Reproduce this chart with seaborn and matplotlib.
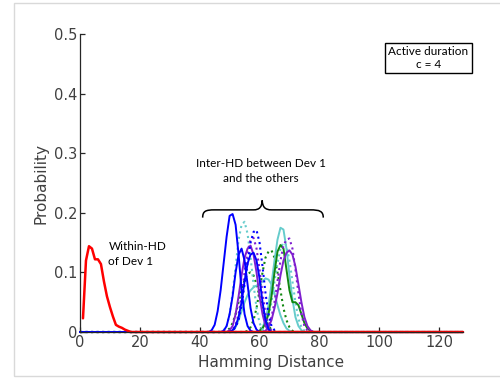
import numpy as np
import pandas as pd
import seaborn as sns
import matplotlib
matplotlib.use("Agg")
import matplotlib.pyplot as plt
from matplotlib.patches import Rectangle, PathPatch
from matplotlib.path import Path

sns.set_theme(style="ticks")
plt.rcParams['font.family'] = ['DejaVu Sans']

# ---------------- data ----------------
hd_max = 128
x_ticks = [0, 20, 40, 60, 80, 100, 120]
y_ticks = [0, 0.1, 0.2, 0.3, 0.4, 0.5]
y_tick_labels = ['0', '0.1', '0.2', '0.3', '0.4', '0.5']

# Within-HD of Dev 1 (starts at HD = 1)
within_start = 1
within_vals = [0.023, 0.12, 0.144, 0.14, 0.122, 0.122, 0.114, 0.085, 0.06,
               0.042, 0.026, 0.012, 0.009, 0.007, 0.004, 0.002, 0.0]

# Inter-HD curves: (start HD, values)
green_dot_a_start = 49
green_dot_a = [0.002, 0.006, 0.015, 0.03, 0.05, 0.07, 0.088, 0.098, 0.1, 0.095,
               0.08, 0.06, 0.04, 0.022, 0.01, 0.004, 0.001, 0.0]
green_dot_b_start = 56
green_dot_b = [0.002, 0.008, 0.02, 0.04, 0.07, 0.1, 0.125, 0.135, 0.137, 0.125,
               0.1, 0.07, 0.04, 0.02, 0.008, 0.002, 0.0]
green_sol_start = 60
green_sol = [0.002, 0.006, 0.015, 0.03, 0.06, 0.1, 0.135, 0.146, 0.14, 0.105,
             0.07, 0.05, 0.05, 0.045, 0.03, 0.015, 0.006, 0.002, 0.0]
cyan_sol_a_start = 51
cyan_sol_a = [0.002, 0.008, 0.02, 0.035, 0.05, 0.062, 0.07, 0.075, 0.078, 0.08,
              0.085, 0.09, 0.088, 0.08, 0.065, 0.045, 0.028, 0.015, 0.006, 0.002, 0.0]
cyan_sol_b_start = 60
cyan_sol_b = [0.002, 0.008, 0.02, 0.045, 0.08, 0.12, 0.155, 0.175, 0.172, 0.14,
              0.095, 0.055, 0.025, 0.01, 0.003, 0.0]
cyan_dot_a_start = 48
cyan_dot_a = [0.003, 0.01, 0.03, 0.065, 0.11, 0.155, 0.18, 0.185, 0.165, 0.125,
              0.08, 0.04, 0.015, 0.004, 0.0]
cyan_dot_b_start = 61
cyan_dot_b = [0.002, 0.01, 0.025, 0.05, 0.085, 0.115, 0.14, 0.15, 0.145, 0.12,
              0.085, 0.05, 0.022, 0.008, 0.002, 0.0]
purple_sol_a_start = 50
purple_sol_a = [0.003, 0.01, 0.03, 0.06, 0.095, 0.125, 0.14, 0.145, 0.13, 0.1,
                0.06, 0.03, 0.01, 0.003, 0.0]
purple_sol_b_start = 62
purple_sol_b = [0.002, 0.008, 0.02, 0.04, 0.065, 0.095, 0.12, 0.133, 0.137, 0.13,
                0.11, 0.08, 0.05, 0.025, 0.01, 0.003, 0.0]
purple_dot_a_start = 51
purple_dot_a = [0.003, 0.012, 0.03, 0.06, 0.1, 0.135, 0.155, 0.158, 0.14, 0.105,
                0.065, 0.03, 0.01, 0.002, 0.0]
purple_dot_b_start = 62
purple_dot_b = [0.002, 0.01, 0.025, 0.05, 0.085, 0.12, 0.145, 0.155, 0.157, 0.14,
                0.105, 0.065, 0.03, 0.01, 0.003, 0.0]
blue_dot_start = 51
blue_dot = [0.002, 0.008, 0.02, 0.045, 0.08, 0.115, 0.15, 0.168, 0.171, 0.15,
            0.11, 0.065, 0.03, 0.01, 0.003, 0.0]
blue_sol_c_start = 51
blue_sol_c = [0.003, 0.01, 0.025, 0.05, 0.085, 0.115, 0.13, 0.133, 0.12, 0.09,
              0.05, 0.02, 0.005, 0.0]
blue_sol_b_start = 48
blue_sol_b = [0.002, 0.01, 0.03, 0.06, 0.1, 0.13, 0.14, 0.12, 0.08, 0.04,
              0.015, 0.004, 0.0]
blue_sol_a_start = 44
blue_sol_a = [0.003, 0.012, 0.035, 0.07, 0.115, 0.16, 0.195, 0.198, 0.18, 0.13,
              0.07, 0.03, 0.01, 0.002, 0.0]

GREEN = '#118811'
CYAN = '#66CCCC'
PURPLE = '#7F1FCF'
BLUE = '#0000FF'

inter_curves = [
    (green_dot_a_start, green_dot_a, GREEN, ':'),
    (green_dot_b_start, green_dot_b, GREEN, ':'),
    (cyan_sol_a_start, cyan_sol_a, CYAN, '-'),
    (cyan_dot_b_start, cyan_dot_b, CYAN, ':'),
    (cyan_sol_b_start, cyan_sol_b, CYAN, '-'),
    (green_sol_start, green_sol, GREEN, '-'),
    (purple_dot_b_start, purple_dot_b, PURPLE, ':'),
    (purple_sol_b_start, purple_sol_b, PURPLE, '-'),
    (cyan_dot_a_start, cyan_dot_a, CYAN, ':'),
    (purple_sol_a_start, purple_sol_a, PURPLE, '-'),
    (purple_dot_a_start, purple_dot_a, PURPLE, ':'),
    (blue_dot_start, blue_dot, BLUE, ':'),
    (blue_sol_c_start, blue_sol_c, BLUE, '-'),
    (blue_sol_b_start, blue_sol_b, BLUE, '-'),
    (blue_sol_a_start, blue_sol_a, BLUE, '-'),
]


def full_series(start, vals):
    hd = np.arange(0, hd_max + 1)
    y = np.zeros(len(hd))
    y[start:start + len(vals)] = vals
    return pd.DataFrame({'hd': hd, 'p': y})


# ---------------- figure ----------------
fig = plt.figure(figsize=(5.0, 3.79), dpi=100)
fig.patch.set_facecolor('white')
# light page border
fig.add_artist(Rectangle((14 / 500, 3 / 379), 1.0, 373 / 379, transform=fig.transFigure,
                         fill=False, edgecolor='#d9d9d9', lw=1.0))

ax = fig.add_axes([0.16, 0.124, 0.766, 0.786])
ax.set_facecolor('white')

for start, vals, col, ls in inter_curves:
    df = full_series(start, vals)
    sns.lineplot(data=df, x='hd', y='p', ax=ax, color=col, linestyle=ls,
                 lw=1.4 if ls == '-' else 1.5, clip_on=False)

wdf = pd.DataFrame({'hd': np.arange(within_start, hd_max + 1)})
wy = np.zeros(len(wdf))
wy[:len(within_vals)] = within_vals
wdf['p'] = wy
sns.lineplot(data=wdf, x='hd', y='p', ax=ax, color='#FF0000', lw=1.8, clip_on=False)

ax.set_xlim(0, hd_max)
ax.set_ylim(0, 0.5)
ax.set_xticks(x_ticks)
ax.set_xticklabels([str(t) for t in x_ticks])
ax.set_yticks(y_ticks)
ax.set_yticklabels(y_tick_labels)
sns.despine(ax=ax)
for s in ['left', 'bottom']:
    ax.spines[s].set_color('#262626')
    ax.spines[s].set_linewidth(0.9)
ax.tick_params(direction='in', length=3.5, width=0.9, color='#262626',
               labelsize=10.5, labelcolor='#404040', pad=2)
ax.set_xlabel('Hamming Distance', fontsize=11, color='#404040', labelpad=4)
ax.set_ylabel('Probability', fontsize=11, color='#404040', labelpad=4)

# annotations
ax.text(9.5, 0.152, 'Within-HD\nof Dev 1', family='Lato', fontsize=8.5, ha='left',
        va='top', linespacing=1.45, color='black')
ax.text(60.5, 0.27, 'Inter-HD between Dev 1\nand the others', family='Lato',
        fontsize=8.5, ha='center', va='center', linespacing=1.5, color='black')

verts = [(41, 0.192), (41, 0.203), (42, 0.205), (45, 0.205),
         (58, 0.205),
         (60, 0.205), (60.8, 0.21), (60.9, 0.221),
         (61, 0.21), (61.8, 0.205), (64, 0.205),
         (77, 0.205),
         (80, 0.205), (81.3, 0.203), (81.3, 0.192)]
codes = [Path.MOVETO, Path.CURVE4, Path.CURVE4, Path.CURVE4,
         Path.LINETO,
         Path.CURVE4, Path.CURVE4, Path.CURVE4,
         Path.CURVE4, Path.CURVE4, Path.CURVE4,
         Path.LINETO,
         Path.CURVE4, Path.CURVE4, Path.CURVE4]
ax.add_patch(PathPatch(Path(verts, codes), fill=False, edgecolor='black', lw=1.1))

# box with parameters
fig.add_artist(Rectangle((385 / 500, 1 - 73 / 379), 87 / 500, 30 / 379,
                         transform=fig.transFigure, fill=False, edgecolor='black', lw=1.0))
fig.text(428.5 / 500, 1 - 58 / 379, 'Active duration\nc = 4', family='Lato', fontsize=8.5,
         ha='center', va='center', linespacing=1.25, color='black')

fig.savefig('out.png', dpi=100, facecolor='white')
